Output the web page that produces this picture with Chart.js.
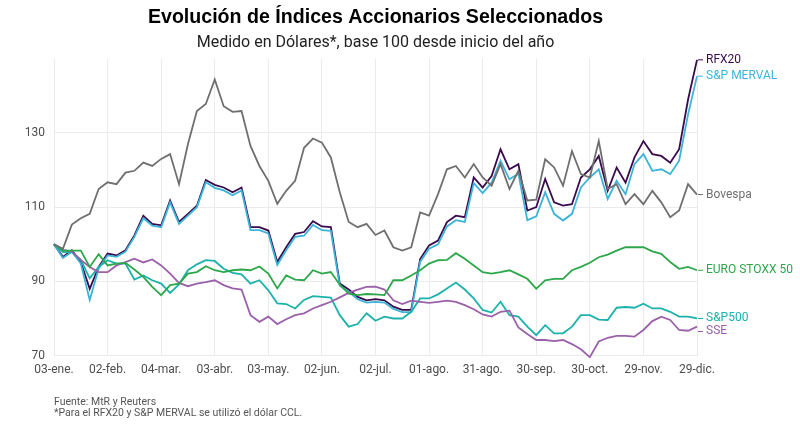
<!DOCTYPE html>
<html lang="es">
<head>
<meta charset="utf-8">
<title>Evolución de Índices Accionarios Seleccionados</title>
<script src="https://cdn.jsdelivr.net/npm/chart.js@4.4.1/dist/chart.umd.min.js"></script>
<style>
  html, body { margin: 0; padding: 0; background: #ffffff; }
  #wrap { position: relative; width: 800px; height: 427px; }
</style>
</head>
<body>
<div id="wrap"><canvas id="line-chart" width="800" height="427"></canvas></div>
<script>
// dias desde el 03-ene.
const dias = [0, 5, 10, 15, 20, 25, 30, 35, 40, 45, 50, 55, 60, 65, 70, 75, 80, 85, 90,
  95, 100, 105, 110, 115, 120, 125, 130, 135, 140, 145, 150, 155, 160, 165, 170, 175, 180,
  185, 190, 195, 200, 205, 210, 215, 220, 225, 230, 235, 240, 245, 250, 255, 260, 265, 270,
  275, 280, 285, 290, 295, 300, 305, 310, 315, 320, 325, 330, 335, 340, 345, 350, 355, 360];

const ticksX = [0, 30, 60, 90, 120, 150, 180, 210, 240, 270, 300, 330, 360];
const etiquetasX = ["03-ene.", "02-feb.", "04-mar.", "03-abr.", "03-may.", "02-jun.", "02-jul.",
  "01-ago.", "31-ago.", "30-sep.", "30-oct.", "29-nov.", "29-dic."];
const ticksY = [70, 90, 110, 130];

const rfx20 = [100, 96.6, 98.4, 95.2, 88, 93.9, 97.5, 97, 98.4, 102.4, 107.7, 105.5, 105.1, 111.8, 106, 108.2, 110.4, 117.3, 116,
  115.3, 114, 115.3, 104.6, 104.6, 103.7, 95.2, 99.2, 102.8, 103.3, 106.2, 104.8, 104.6, 89.4, 87.8, 85.8, 84.9, 85.2,
  84.9, 83.2, 82.3, 82.3, 96, 99.7, 101, 106, 107.7, 107.3, 118, 115.3, 118.4, 125.6, 120.2, 121.6, 109.1, 110,
  117.6, 111.3, 110.4, 110.8, 118, 120.2, 123.8, 114.4, 120.7, 116.6, 123.4, 127.8, 124.3, 123.8, 122, 125.6, 139, 149.7];

const merval = [100, 96.3, 98, 94.8, 85, 93.5, 97, 96.6, 98, 102, 107, 105, 104.6, 111.3, 105.5, 107.7, 110, 116.7, 115.2,
  114.5, 113.2, 114.5, 103.8, 103.8, 102.9, 94.4, 98.4, 102, 102.3, 105.2, 103.8, 103.6, 88.8, 87.2, 85.2, 84.3, 84.5,
  84.3, 82.6, 81.7, 81.7, 95.3, 98.8, 100, 104.8, 106.5, 106, 116.5, 113.8, 116.6, 122.5, 117.5, 119, 106.5, 107.5,
  114, 108.2, 106.4, 108.2, 115.3, 118, 120.2, 112.2, 117.1, 113.5, 121.6, 124.3, 119.8, 120.2, 118.9, 122.5, 135, 145.3];

const bovespa = [100, 98.8, 105.3, 107, 108.2, 114.9, 116.7, 116.2, 119.3, 119.8, 122, 121.1, 123, 124.3, 116.2, 127, 135.9, 137.8, 144.4,
  137.2, 135.7, 135.9, 126.5, 121.1, 117.1, 110.9, 114.4, 117.1, 126, 128.5, 127.4, 123.4, 114, 106, 104.6, 105.5, 102.5,
  103.7, 99.2, 98.3, 99.2, 108.6, 107.7, 113.5, 120.2, 121.1, 118, 121.6, 118, 115.8, 121.6, 114.9, 119.8, 111.8, 112,
  122.9, 120.7, 115.8, 125.1, 118.9, 118, 127.8, 114.9, 116.2, 110.8, 113.5, 110.8, 114.4, 111.3, 107.3, 109.1, 116.2, 113.4];

const euroStoxx = [100, 98.3, 98.3, 98.3, 93.9, 97.3, 94.3, 94.8, 95, 93.2, 91.2, 88.5, 86.3, 89, 89.4, 92.1, 92.5, 94.1, 93,
  92.5, 93, 93.2, 93, 94, 92.1, 88.1, 91.6, 90.5, 90.3, 93, 92.1, 92.5, 89.1, 86.7, 86.3, 86.6, 86.5,
  86.3, 90.3, 90.3, 91.6, 93, 94.8, 95.7, 95.8, 97.6, 96.1, 94.3, 92.5, 92.1, 92.5, 93, 91.9, 90.7, 88,
  90.3, 90.7, 90.7, 93, 93.9, 95, 96.5, 97.2, 98.3, 99.2, 99.2, 99.2, 98.1, 97.4, 95.2, 93.4, 93.9, 93];

const sp500 = [100, 97.9, 97.9, 95.8, 90.8, 93.9, 95.7, 94.8, 94.8, 90.5, 91.6, 90.3, 89.4, 86.9, 89.2, 93, 94.6, 95.7, 95.5,
  93.4, 92.3, 91.9, 89.4, 90.3, 87.6, 84.1, 83.9, 82.7, 85, 86, 85.8, 85.6, 80.9, 77.8, 78.5, 81.4, 79.4,
  80.5, 80, 80, 81.8, 85.4, 85.4, 86.5, 88.1, 89.7, 87.8, 85.4, 82.3, 81.6, 84.5, 80.9, 80.5, 77.8, 75.5,
  78.2, 76, 76, 77.8, 80.9, 80.9, 79.7, 79.6, 82.9, 83.1, 82.9, 84, 82.7, 82.7, 81.8, 80.5, 80.5, 80];

const sse = [100, 98.5, 98, 95.8, 93.9, 92.5, 92.5, 94.3, 95.2, 96.1, 95.1, 95.9, 94.3, 92.1, 89.6, 88.7, 89.4, 89.8, 90.3,
  89, 88.1, 87.8, 80.9, 79.1, 80.5, 78.5, 79.8, 80.9, 81.4, 82.7, 83.6, 84.5, 85.7, 86.9, 87.8, 88.5, 88.6,
  87.8, 84.9, 83.9, 84.8, 84.5, 84.2, 84.5, 84.8, 84.5, 83.6, 82.5, 81.1, 80.5, 81.8, 82.1, 77.6, 75.8, 74.2,
  74.2, 73.9, 74.2, 73.1, 71.7, 69.6, 73.8, 74.8, 75.3, 75.3, 75.1, 76.9, 79.3, 80.5, 79.6, 76.9, 76.7, 77.8];

const series = [
  { label: "Bovespa", values: bovespa, color: "#6f6f6f" },
  { label: "EURO STOXX 50", values: euroStoxx, color: "#2ca74a" },
  { label: "SSE", values: sse, color: "#9b61a8" },
  { label: "S&P500", values: sp500, color: "#1cb2ac" },
  { label: "S&P MERVAL", values: merval, color: "#3bb4d8" },
  { label: "RFX20", values: rfx20, color: "#3a0a4c" }
];

const toPoints = (values) => values.map((v, i) => ({ x: dias[i], y: v }));

// etiquetas al final de cada linea
const endLabels = {
  id: "endLabels",
  afterDatasetsDraw(chart) {
    const { ctx } = chart;
    const items = chart.data.datasets.map((ds, i) => {
      const pts = chart.getDatasetMeta(i).data;
      const last = pts[pts.length - 1];
      return { text: ds.label, color: ds.borderColor, x: last.x, y: last.y };
    }).sort((a, b) => a.y - b.y);
    for (let i = 1; i < items.length; i++) {
      if (items[i].y - items[i - 1].y < 13) items[i].y = items[i - 1].y + 13;
    }
    ctx.save();
    ctx.font = "12px Roboto";
    ctx.textBaseline = "middle";
    items.forEach((it) => {
      ctx.strokeStyle = it.color;
      ctx.lineWidth = 1;
      ctx.beginPath();
      ctx.moveTo(it.x + 1, it.y);
      ctx.lineTo(it.x + 6, it.y);
      ctx.stroke();
      ctx.fillStyle = it.color;
      ctx.fillText(it.text, it.x + 9, it.y);
    });
    ctx.restore();
  }
};

const footer = {
  id: "footer",
  afterDraw(chart) {
    const { ctx } = chart;
    ctx.save();
    ctx.font = "10.5px Roboto";
    ctx.fillStyle = "#555555";
    ctx.textBaseline = "middle";
    ctx.fillText("Fuente: MtR y Reuters", 54, 402);
    ctx.fillText("*Para el RFX20 y S&P MERVAL se utilizó el dólar CCL.", 54, 413);
    ctx.restore();
  }
};

new Chart(document.getElementById("line-chart").getContext("2d"), {
  type: "line",
  data: {
    datasets: series.map((s) => ({
      label: s.label,
      data: toPoints(s.values),
      borderColor: s.color,
      backgroundColor: s.color,
      borderWidth: 1.8,
      pointRadius: 0,
      tension: 0,
      clip: false
    }))
  },
  options: {
    responsive: false,
    animation: false,
    layout: { padding: { top: 6, right: 103, bottom: 43, left: 0 } },
    plugins: {
      legend: { display: false },
      tooltip: { enabled: false },
      title: {
        display: true,
        fullSize: false,
        text: "Evolución de Índices Accionarios Seleccionados",
        color: "#000000",
        font: { family: "Liberation Sans", size: 19.6, weight: "bold" },
        padding: { top: 0, bottom: 4 }
      },
      subtitle: {
        display: true,
        fullSize: false,
        text: "Medido en Dólares*, base 100 desde inicio del año",
        color: "#222222",
        font: { family: "Roboto", size: 16 },
        padding: { top: 0, bottom: 6 }
      }
    },
    scales: {
      x: {
        type: "linear",
        min: 0,
        max: 360,
        afterBuildTicks: (scale) => { scale.ticks = ticksX.map((v) => ({ value: v })); },
        ticks: {
          callback: (v) => etiquetasX[ticksX.indexOf(v)],
          color: "#4d4d4d",
          font: { family: "Roboto", size: 12 },
          padding: 7,
          maxRotation: 0,
          autoSkip: false
        },
        grid: { color: "#ebebeb", lineWidth: 1, drawTicks: false },
        border: { display: false }
      },
      y: {
        min: 70,
        max: 150,
        afterBuildTicks: (scale) => { scale.ticks = ticksY.map((v) => ({ value: v })); },
        afterFit: (scale) => { scale.width = 54; },
        ticks: {
          color: "#4d4d4d",
          font: { family: "Roboto", size: 12 },
          padding: 9
        },
        grid: { color: "#ebebeb", lineWidth: 1, drawTicks: false },
        border: { display: false }
      }
    }
  },
  plugins: [endLabels, footer]
});
</script>
</body>
</html>
